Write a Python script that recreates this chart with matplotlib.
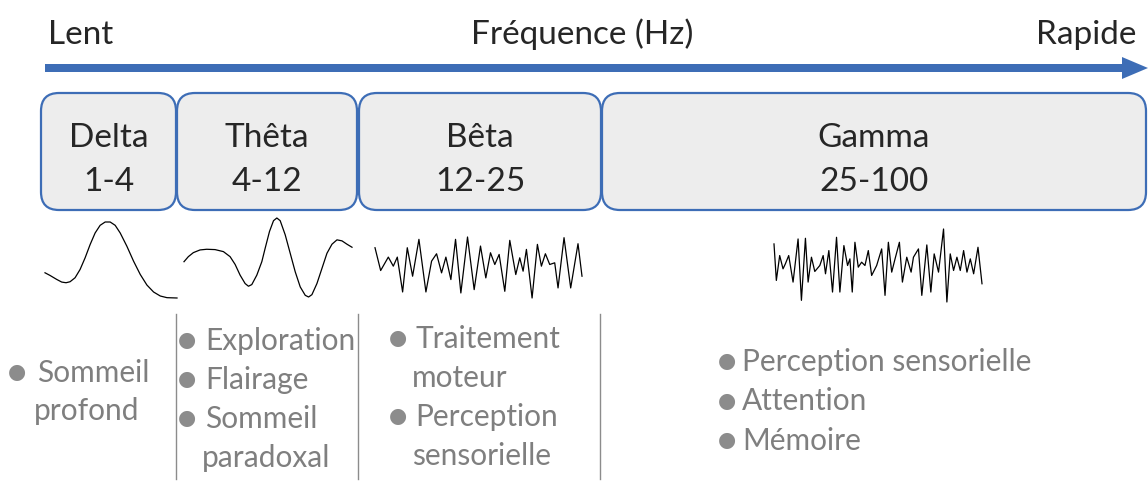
import matplotlib.pyplot as plt
from matplotlib.patches import FancyBboxPatch, FancyArrow

# ---- data ----
band_names = ["Delta", "Thêta", "Bêta", "Gamma"]
band_ranges = ["1-4", "4-12", "12-25", "25-100"]

# functions listed per band: (text, starts_with_bullet)
band_items = [
    [("Sommeil", True), ("profond", False)],
    [("Exploration", True), ("Flairage", True), ("Sommeil", True), ("paradoxal", False)],
    [("Traitement", True), ("moteur", False), ("Perception", True), ("sensorielle", False)],
    [("Perception sensorielle", True), ("Attention", True), ("Mémoire", True)],
]

# example traces (time, amplitude)
delta_t = [45, 60, 80, 95, 108, 120, 135, 150, 165, 180, 195, 210, 225, 240, 255,
           270, 290, 310, 330, 350, 370, 390, 410, 440]
delta_v = [-175, -183, -195, -203, -205, -202, -190, -165, -130, -90, -55, -32, -22,
           -22, -32, -55, -95, -140, -180, -212, -233, -245, -250, -251]

theta_t = [462, 475, 490, 510, 530, 555, 580, 600, 615, 630, 645, 655, 665, 680, 695,
           705, 718, 730, 740, 750, 765, 780, 795, 810, 825, 835, 845, 860, 875, 890,
           905, 920, 935, 950, 965]
theta_v = [-140, -125, -113, -105, -103, -104, -110, -125, -148, -180, -205, -213, -208,
           -180, -140, -100, -50, -18, -10, -18, -60, -115, -170, -215, -240, -245, -238,
           -205, -160, -115, -88, -75, -78, -88, -97]

beta_t = [15, 32, 55, 70, 82, 98, 112, 128, 147, 168, 185, 200, 215, 228, 243, 257,
          273, 293, 313, 332, 348, 362, 375, 388, 405, 420, 438, 450, 460, 470, 487,
          503, 515, 527, 540, 555, 565, 583, 603, 625, 637]
beta_v = [-60, -128, -88, -115, -88, -192, -60, -145, -35, -192, -100, -78, -135, -88,
          -155, -35, -195, -28, -185, -55, -150, -75, -110, -80, -190, -38, -140, -90,
          -130, -65, -210, -50, -115, -78, -110, -105, -180, -30, -180, -48, -145]

gamma_t = [28, 35, 45, 55, 62, 72, 85, 100, 110, 122, 130, 140, 150, 165, 175, 182,
           192, 203, 215, 225, 237, 248, 255, 262, 270, 280, 290, 300, 310, 320, 335,
           350, 360, 370, 380, 390, 403, 412, 425, 438, 445, 460, 470, 485, 497, 507,
           520, 535, 545, 555, 565, 575, 585, 595, 605, 615, 625, 638, 650]
gamma_v = [-65, -175, -100, -140, -125, -100, -180, -50, -235, -48, -180, -105, -148,
           -130, -100, -155, -85, -210, -45, -210, -70, -130, -110, -210, -60, -135,
           -120, -130, -85, -160, -130, -80, -220, -60, -150, -110, -60, -180, -105,
           -150, -105, -80, -220, -68, -210, -95, -150, -20, -240, -95, -145, -105,
           -145, -85, -150, -110, -155, -75, -185]

waves = [(delta_t, delta_v), (theta_t, theta_v), (beta_t, beta_v), (gamma_t, gamma_v)]

# ---- layout (pixels) ----
W, H = 1148, 482
box_x = [(41, 176), (177, 357), (359, 601), (602, 1146)]
box_top, box_bot = 93, 210
wave_box = [(45, 222, 177, 298), (184, 218, 352, 297), (375, 237, 582, 298), (774, 229, 982, 302)]
bullet_x = [17, 187, 398, 727]
text_x = [37, 205, 415, 742]
first_base = [382, 350, 348, 371]
line_gap = [38, 39, 39, 39.5]
sep_x = [176, 358, 600]

blue = "#3D6DB6"
dark = "#262626"
grey_txt = "#7F7F7F"
fam = ["Lato", "DejaVu Sans"]

fig = plt.figure(figsize=(W / 100, H / 100), dpi=100)
ax = fig.add_axes([0, 0, 1, 1])
ax.set_xlim(0, W)
ax.set_ylim(H, 0)
ax.axis("off")

# header
ax.text(48, 44, "Lent", fontsize=24, color=dark, family=fam, va="baseline", ha="left")
ax.text(582, 44, "Fréquence (Hz)", fontsize=24, color=dark, family=fam, va="baseline", ha="center")
ax.text(1136, 44, "Rapide", fontsize=24, color=dark, family=fam, va="baseline", ha="right")
ax.add_patch(FancyArrow(45, 68, W - 45, 0, width=8, head_width=22, head_length=26,
                        length_includes_head=True, color=blue, lw=0))

# band boxes
for (x0, x1), name, rng in zip(box_x, band_names, band_ranges):
    ax.add_patch(FancyBboxPatch((x0, box_top), x1 - x0, box_bot - box_top,
                                boxstyle="round,pad=0,rounding_size=18",
                                fc="#EDEDED", ec=blue, lw=1.6))
    cx = (x0 + x1) / 2
    ax.text(cx, 147, name, fontsize=24, color=dark, family=fam, va="baseline", ha="center")
    ax.text(cx, 191, rng, fontsize=24, color=dark, family=fam, va="baseline", ha="center")

# traces
for (t, v), (x0, y0, x1, y1) in zip(waves, wave_box):
    wax = fig.add_axes([x0 / W, 1 - y1 / H, (x1 - x0) / W, (y1 - y0) / H])
    wax.plot(t, v, color="black", lw=0.9, clip_on=False)
    wax.set_xlim(min(t), max(t))
    wax.set_ylim(min(v), max(v))
    wax.axis("off")

# separators
for x in sep_x:
    ax.plot([x, x], [314, 479], color="#8C8C8C", lw=1.0)

# function lists
for k, items in enumerate(band_items):
    for j, (txt, bullet) in enumerate(items):
        yb = first_base[k] + j * line_gap[k]
        if bullet:
            ax.text(bullet_x[k], yb - 10, "●", fontsize=15, color="#8C8C8C",
                    family="DejaVu Sans", va="center", ha="center")
            ax.text(text_x[k], yb, txt, fontsize=21.5, color=grey_txt, family=fam,
                    va="baseline", ha="left")
        else:
            ax.text(text_x[k] - 3, yb, txt, fontsize=21.5, color=grey_txt, family=fam,
                    va="baseline", ha="left")

fig.savefig("out.png", dpi=100)
